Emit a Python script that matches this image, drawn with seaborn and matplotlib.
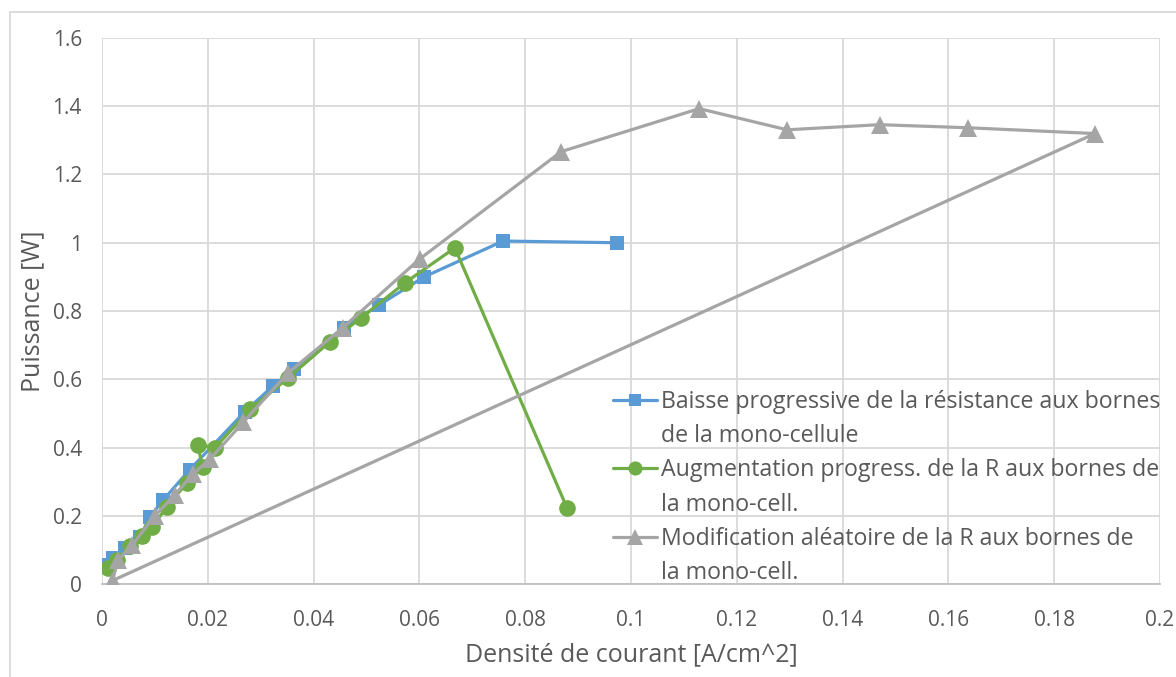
import matplotlib
matplotlib.use("Agg")
import matplotlib.pyplot as plt
import pandas as pd
import seaborn as sns
from matplotlib.lines import Line2D
from matplotlib.ticker import FuncFormatter, MultipleLocator

# --- data -----------------------------------------------------------------
labels = [
    ("Baisse progressive de la résistance aux bornes", "de la mono-cellule"),
    ("Augmentation progress. de la R aux bornes de", "la mono-cell."),
    ("Modification aléatoire de la R aux bornes de", "la mono-cell."),
]

baisse_j = [0.0011, 0.0021, 0.0043, 0.0072, 0.0090, 0.0115, 0.0166, 0.0270,
            0.0323, 0.0363, 0.0457, 0.0524, 0.0609, 0.0758, 0.0974]
baisse_p = [0.056, 0.076, 0.105, 0.138, 0.195, 0.245, 0.335, 0.505,
            0.580, 0.630, 0.750, 0.818, 0.900, 1.005, 1.000]

augment_j = [0.0011, 0.0028, 0.0053, 0.0075, 0.0094, 0.0123, 0.0160, 0.0190,
             0.0181, 0.0214, 0.0280, 0.0352, 0.0431, 0.0490, 0.0573, 0.0667, 0.0879]
augment_p = [0.047, 0.070, 0.110, 0.140, 0.167, 0.226, 0.296, 0.343,
             0.408, 0.400, 0.512, 0.604, 0.710, 0.780, 0.883, 0.985, 0.223]

aleat_j = [0.0019, 0.0030, 0.0057, 0.0100, 0.0138, 0.0172, 0.0204, 0.0267,
           0.0352, 0.0455, 0.0601, 0.0868, 0.1129, 0.1295, 0.1470, 0.1637,
           0.1877, 0.0020]
aleat_p = [0.005, 0.070, 0.114, 0.200, 0.262, 0.322, 0.366, 0.474,
           0.619, 0.751, 0.953, 1.267, 1.393, 1.331, 1.346, 1.337,
           1.320, 0.010]

# --- style ----------------------------------------------------------------
BLUE, GREEN, GREY = "#5B9BD5", "#70AD47", "#A5A5A5"
TEXT = "#595959"
GRID = "#D9D9D9"

sns.set_theme(style="white")
plt.rcParams["font.family"] = ["Open Sans", "DejaVu Sans"]

W, H = 1176, 677
fig = plt.figure(figsize=(W / 100, H / 100), dpi=100)
ax = fig.add_axes([102 / W, 1 - 584 / H, (1160 - 102) / W, (584 - 38) / H])

series = [
    (baisse_j, baisse_p, BLUE, "s", 10.5),
    (augment_j, augment_p, GREEN, "o", 12.0),
    (aleat_j, aleat_p, GREY, "^", 13.5),
]

for k, (xs, ys, col, mk, ms) in enumerate(series):
    df = pd.DataFrame({"j": xs, "p": ys})
    sns.lineplot(data=df, x="j", y="p", sort=False, estimator=None,
                 color=col, linewidth=2.3, marker=mk, markersize=ms,
                 markeredgewidth=0, ax=ax, zorder=3 + k, legend=False)

ax.set_xlim(0, 0.2)
ax.set_ylim(0, 1.6)
ax.xaxis.set_major_locator(MultipleLocator(0.02))
ax.yaxis.set_major_locator(MultipleLocator(0.2))
fmt = FuncFormatter(lambda v, _: f"{round(v, 4):g}")
ax.xaxis.set_major_formatter(fmt)
ax.yaxis.set_major_formatter(fmt)

ax.grid(True, color=GRID, linewidth=1.3)
ax.set_axisbelow(True)
for side in ("top", "right", "left"):
    ax.spines[side].set_visible(False)
ax.spines["bottom"].set_color("#BFBFBF")
ax.spines["bottom"].set_linewidth(1.3)
ax.tick_params(axis="both", length=0, labelsize=15, colors=TEXT)
ax.tick_params(axis="y", pad=14.5)
ax.tick_params(axis="x", pad=19)

ax.set_xlabel("Densité de courant [A/cm^2]", fontsize=18, color=TEXT, labelpad=8)
ax.set_ylabel("Puissance [W]", fontsize=18, color=TEXT, labelpad=5)

# legend: one row per text line, the marker on the first line of each entry
handles, texts = [], []
for (first, second), (_, _, col, mk, ms) in zip(labels, series):
    handles.append(Line2D([], [], color=col, linewidth=2.3, marker=mk,
                          markersize=ms * 0.85, markeredgewidth=0))
    texts.append(first)
    handles.append(Line2D([], [], linestyle="none", marker=None))
    texts.append(second)

ax.legend(handles, texts, loc="upper left",
          bbox_to_anchor=(613 / W, 1 - 390 / H), bbox_transform=fig.transFigure,
          frameon=False, fontsize=16.7, labelcolor=TEXT, borderpad=0,
          borderaxespad=0, handlelength=1.9, handletextpad=0.15,
          labelspacing=0.44)

# outer chart frame
fig.add_artist(Line2D([10 / W, 10 / W], [0, 1 - 12 / H], color=GRID, linewidth=1.3,
                      transform=fig.transFigure))
fig.add_artist(Line2D([10 / W, 1], [1 - 12 / H, 1 - 12 / H], color=GRID, linewidth=1.3,
                      transform=fig.transFigure))

fig.savefig("out.png", dpi=100)
